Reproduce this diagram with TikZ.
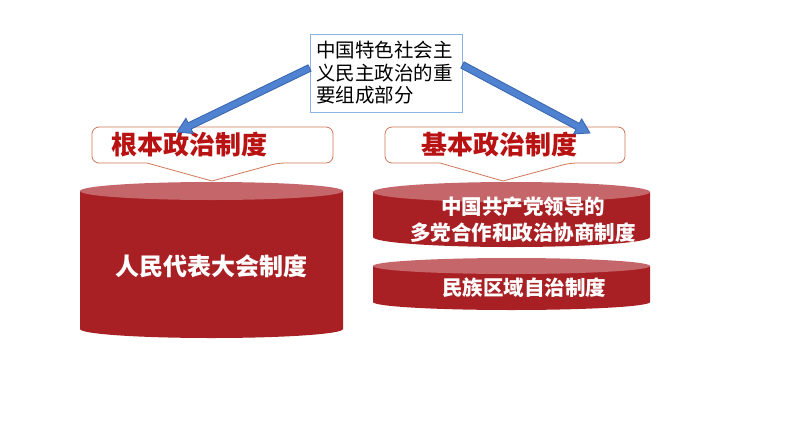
\documentclass[tikz,border=0pt]{standalone}
\usepackage{fontspec}
\usepackage{xcolor}
\usetikzlibrary{calc}
\newfontfamily\cjk{Noto Sans CJK SC}
\definecolor{bodyred}{RGB}{168,32,36}
\definecolor{capred}{RGB}{196,102,106}
\definecolor{titlered}{RGB}{184,18,18}
\definecolor{calloutline}{RGB}{210,120,90}
\definecolor{boxblue}{RGB}{140,180,225}
\definecolor{arrowfill}{RGB}{80,130,210}
\definecolor{arrowline}{RGB}{55,100,170}
\tikzset{
  topbox/.style={draw=boxblue, line width=0.9pt, fill=white, inner sep=0pt,
    minimum width=152pt, minimum height=78pt, text width=140pt, align=left,
    font=\cjk\fontsize{19.5}{22.5}\selectfont},
  callouttext/.style={text=titlered, font=\cjk\bfseries\fontsize{26}{28}\selectfont},
  cyltext/.style={text=white, align=center, font=\cjk\bfseries\fontsize{20.5}{26}\selectfont},
  callout/.style={draw=calloutline, line width=0.8pt, fill=white},
  blockarrow/.style={fill=arrowfill, draw=arrowline, line width=0.8pt, line join=miter}
}
% cylinder: x left, x right, y top, y bottom, radius y
\newcommand{\drumshape}[5]{%
  \fill[bodyred] (#1,#3) -- (#1,#4)
    arc[start angle=180, end angle=0, x radius={(#2-#1)/2}, y radius=#5] -- (#2,#3) -- cycle;
  \fill[capred] ({(#1+#2)/2},#3) ellipse[x radius={(#2-#1)/2}, y radius=#5];
}
% callout: x left, x right, y top, y bottom, pointer left, apex x, pointer right, apex y
\newcommand{\calloutshape}[8]{%
  \draw[callout, rounded corners=7pt] (#5,#4) -- (#1,#4) -- (#1,#3) -- (#2,#3) -- (#2,#4)
    -- (#7,#4) [sharp corners] -- (#6,#8) -- cycle;
}
% block arrow from #1 to #2
\newcommand{\blockarrow}[2]{%
  \draw[blockarrow]
    ($(#1)!3.5pt!90:(#2)$) --
    ($($(#2)!14pt!(#1)$)!3.5pt!-90:(#1)$) --
    ($($(#2)!14pt!(#1)$)!8.5pt!-90:(#1)$) --
    (#2) --
    ($($(#2)!14pt!(#1)$)!8.5pt!90:(#1)$) --
    ($($(#2)!14pt!(#1)$)!3.5pt!90:(#1)$) --
    ($(#1)!3.5pt!-90:(#2)$) -- cycle;
}
\begin{document}
\begin{tikzpicture}[x=1pt, y=-1pt]
  \useasboundingbox (0,0) rectangle (794,447);
  \fill[white] (0,0) rectangle (794,447);

  % callouts
  \calloutshape{92}{333}{127}{163}{147}{212}{278}{181}
  \calloutshape{385}{625}{127}{163}{440}{503}{570}{181}
  \node[callouttext] (rootsys) at (189,145) {根本政治制度};
  \node[callouttext] (basesys) at (499,145) {基本政治制度};

  % cylinders
  \drumshape{80}{343}{191}{329}{9}
  \drumshape{373}{650}{192}{237}{10}
  \drumshape{373}{650}{266}{302}{8}
  \node[cyltext, font=\cjk\bfseries\fontsize{24}{26}\selectfont] (npc) at (211,266) {人民代表大会制度};
  \node[cyltext] (cpc) at (523,220) {中国共产党领导的\\多党合作和政治协商制度};
  \node[cyltext] (ethnic) at (524,288) {民族区域自治制度};

  % top box and arrows
  \node[topbox] (topnote) at (386,73) {中国特色社会主\\义民主政治的重\\要组成部分};
  \coordinate (leftstart) at ([yshift=5pt]topnote.west);
  \coordinate (rightstart) at ([yshift=8pt]topnote.east);
  \coordinate (lefttip) at (177,132);
  \coordinate (righttip) at (590,133);
  \blockarrow{leftstart}{lefttip}
  \blockarrow{rightstart}{righttip}
\end{tikzpicture}
\end{document}
